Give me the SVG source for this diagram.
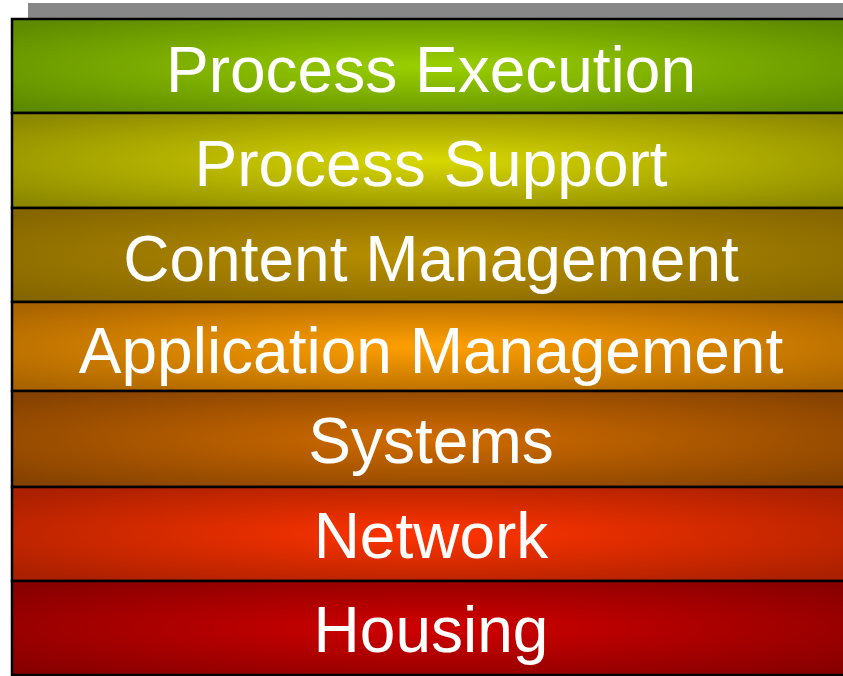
<svg xmlns="http://www.w3.org/2000/svg" width="843" height="676" viewBox="0 0 843 676">
<style>
.band{stroke:#000;stroke-width:2.5}
.lbl{font-family:"Liberation Sans",Arial,sans-serif;font-size:64px;fill:#fff;text-anchor:middle}
</style>
<defs>
<radialGradient id="g1" cx="0.5" cy="0.5" r="0.65"><stop offset="0" stop-color="#9ad000"/><stop offset="1" stop-color="#5e8a00"/></radialGradient>
<radialGradient id="g2" cx="0.5" cy="0.5" r="0.65"><stop offset="0" stop-color="#d8d800"/><stop offset="1" stop-color="#8c8800"/></radialGradient>
<radialGradient id="g3" cx="0.5" cy="0.5" r="0.65"><stop offset="0" stop-color="#b89000"/><stop offset="1" stop-color="#866600"/></radialGradient>
<radialGradient id="g4" cx="0.5" cy="0.5" r="0.65"><stop offset="0" stop-color="#ffa000"/><stop offset="1" stop-color="#aa6400"/></radialGradient>
<radialGradient id="g5" cx="0.5" cy="0.5" r="0.65"><stop offset="0" stop-color="#d06c00"/><stop offset="1" stop-color="#864200"/></radialGradient>
<radialGradient id="g6" cx="0.5" cy="0.5" r="0.65"><stop offset="0" stop-color="#ff3400"/><stop offset="1" stop-color="#aa2000"/></radialGradient>
<radialGradient id="g7" cx="0.5" cy="0.5" r="0.65"><stop offset="0" stop-color="#d00000"/><stop offset="1" stop-color="#880000"/></radialGradient>
</defs>
<rect x="28" y="3" width="820" height="16" fill="#878787"/>
<g id="process-execution"><rect class="band" x="12" y="19" width="840" height="94" fill="url(#g1)"/><text class="lbl" x="431" y="92">Process Execution</text></g>
<g id="process-support"><rect class="band" x="12" y="113" width="840" height="95" fill="url(#g2)"/><text class="lbl" x="431" y="186">Process Support</text></g>
<g id="content-management"><rect class="band" x="12" y="208" width="840" height="94" fill="url(#g3)"/><text class="lbl" x="431" y="281">Content Management</text></g>
<g id="application-management"><rect class="band" x="12" y="302" width="840" height="89" fill="url(#g4)"/><text class="lbl" x="431" y="373">Application Management</text></g>
<g id="systems"><rect class="band" x="12" y="391" width="840" height="96" fill="url(#g5)"/><text class="lbl" x="431" y="463">Systems</text></g>
<g id="network"><rect class="band" x="12" y="487" width="840" height="94" fill="url(#g6)"/><text class="lbl" x="431" y="558">Network</text></g>
<g id="housing"><rect class="band" x="12" y="581" width="840" height="94" fill="url(#g7)"/><text class="lbl" x="431" y="652">Housing</text></g>
<g id="connectors"/>
</svg>
